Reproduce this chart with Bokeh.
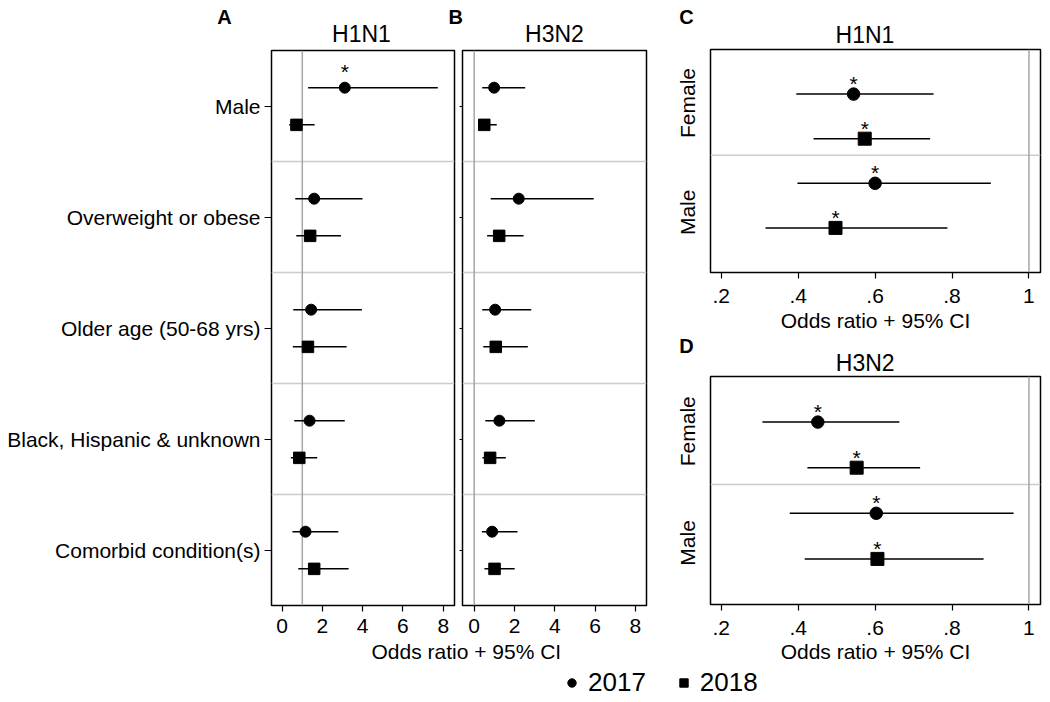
from bokeh.plotting import figure
from bokeh.models import (ColumnDataSource, Span, Label, FixedTicker, Legend,
                          LegendItem, Range1d)
from bokeh.layouts import row, column
from bokeh.embed import file_html
from bokeh.resources import INLINE
from bokeh.core.properties import value

FONT = "Liberation Sans"

# ---------------- data ----------------
years = ["2017", "2018"]
risk_factors = ["Male", "Overweight or obese", "Older age (50-68 yrs)",
                "Black, Hispanic & unknown", "Comorbid condition(s)"]

h1n1_2017_or = [3.11, 1.59, 1.44, 1.36, 1.16]
h1n1_2017_lo = [1.29, 0.65, 0.55, 0.60, 0.51]
h1n1_2017_hi = [7.73, 3.99, 3.96, 3.11, 2.79]
h1n1_2017_sig = [True, False, False, False, False]
h1n1_2018_or = [0.71, 1.39, 1.28, 0.85, 1.59]
h1n1_2018_lo = [0.35, 0.70, 0.53, 0.43, 0.80]
h1n1_2018_hi = [1.61, 2.92, 3.20, 1.74, 3.30]
h1n1_2018_sig = [False, False, False, False, False]

h3n2_2017_or = [0.99, 2.21, 1.04, 1.25, 0.89]
h3n2_2017_lo = [0.40, 0.82, 0.40, 0.55, 0.38]
h3n2_2017_hi = [2.53, 5.93, 2.83, 3.01, 2.15]
h3n2_2017_sig = [False, False, False, False, False]
h3n2_2018_or = [0.50, 1.24, 1.07, 0.79, 1.01]
h3n2_2018_lo = [0.25, 0.64, 0.45, 0.41, 0.51]
h3n2_2018_hi = [1.12, 2.45, 2.66, 1.57, 2.01]
h3n2_2018_sig = [False, False, False, False, False]

sexes = ["Female", "Male"]
sex_h1n1_2017_or = [0.544, 0.600]
sex_h1n1_2017_lo = [0.395, 0.398]
sex_h1n1_2017_hi = [0.752, 0.901]
sex_h1n1_2018_or = [0.573, 0.497]
sex_h1n1_2018_lo = [0.440, 0.315]
sex_h1n1_2018_hi = [0.743, 0.788]
sex_h3n2_2017_or = [0.451, 0.603]
sex_h3n2_2017_lo = [0.307, 0.378]
sex_h3n2_2017_hi = [0.663, 0.960]
sex_h3n2_2018_or = [0.552, 0.606]
sex_h3n2_2018_lo = [0.424, 0.417]
sex_h3n2_2018_hi = [0.717, 0.882]
sex_sig = [True, True]

ab_ticks = [0, 2, 4, 6, 8]
cd_ticks = [0.2, 0.4, 0.6, 0.8, 1.0]
cd_tick_labels = [".2", ".4", ".6", ".8", "1"]
x_title = "Odds ratio + 95% CI"


# ---------------- helpers ----------------
def base_fig(width, height, xr, yr, bl, br, bt, bb, outline=True):
    p = figure(width=width, height=height, x_range=Range1d(*xr), y_range=Range1d(*yr),
               output_backend="svg", toolbar_location=None, title=None,
               min_border_left=bl, min_border_right=br,
               min_border_top=bt, min_border_bottom=bb)
    p.grid.visible = False
    p.outline_line_color = "black" if outline else None
    p.outline_line_width = 1.5
    p.background_fill_color = "white"
    p.border_fill_color = "white"
    return p


def strip(width, height):
    p = base_fig(width, height, (0, width), (0, height), 0, 0, 0, 0, outline=False)
    p.axis.visible = False
    return p


def style_axis(ax, tick_out, standoff, size="21px"):
    ax.axis_line_color = None
    ax.major_tick_out = tick_out
    ax.major_tick_in = 0
    ax.minor_tick_out = 0
    ax.minor_tick_in = 0
    ax.major_tick_line_color = "black"
    ax.major_tick_line_width = 1.2
    ax.major_label_text_font = FONT
    ax.major_label_text_font_size = size
    ax.major_label_text_color = "black"
    ax.major_label_standoff = standoff
    ax.axis_label_text_font = FONT
    ax.axis_label_text_font_size = "21px"
    ax.axis_label_text_font_style = "normal"
    ax.axis_label_text_color = "black"
    ax.axis_label_standoff = 3


def add_label(p, x, y, text, size, bold=False):
    p.add_layout(Label(x=x, y=y, text=text,
                       text_font=FONT, text_font_size=size,
                       text_font_style="bold" if bold else "normal",
                       text_align="center", text_baseline="middle",
                       text_color="black"))


def draw_series(p, ys, ors, los, his, sig, marker, size, star_off):
    src = ColumnDataSource(dict(y=ys, o=ors, lo=los, hi=his))
    p.segment(x0="lo", y0="y", x1="hi", y1="y", source=src,
              line_color="black", line_width=1.5)
    p.scatter(x="o", y="y", source=src, marker=marker, size=size,
              fill_color="black", line_color="black")
    sx = [o for o, s in zip(ors, sig) if s]
    sy = [y for y, s in zip(ys, sig) if s]
    if sx:
        p.text(x=sx, y=sy, text=["*"] * len(sx), text_font=value(FONT),
               text_font_size="21px", text_align="center", text_baseline="middle",
               y_offset=star_off, text_color="black")


def risk_panel(width, xr, bl, br, ref_x, show_labels, data):
    p = base_fig(width, 592, xr, (0.5, 5.5), bl, br, 2, 35)
    n = len(risk_factors)
    centers = [n - i for i in range(n)]
    for loc in [c + 0.5 for c in centers[1:]]:
        p.add_layout(Span(location=loc, dimension="width", line_color="#cccccc",
                          line_width=1.5, level="underlay"))
    p.add_layout(Span(location=ref_x, dimension="height", line_color="#a6a6a6",
                      line_width=1.5, level="underlay"))
    (o17, l17, h17, s17), (o18, l18, h18, s18) = data
    draw_series(p, [c + 0.165 for c in centers], o17, l17, h17, s17, "circle", 11, -16.5)
    draw_series(p, [c - 0.17 for c in centers], o18, l18, h18, s18, "square", 11.5, -16.5)
    p.xaxis.ticker = FixedTicker(ticks=ab_ticks)
    style_axis(p.xaxis[0], 6, 7)
    p.yaxis.ticker = FixedTicker(ticks=centers)
    if show_labels:
        p.yaxis.major_label_overrides = {c: lab for c, lab in zip(centers, risk_factors)}
        style_axis(p.yaxis[0], 7, 4)
    else:
        p.yaxis.major_label_overrides = {c: "" for c in centers}
        style_axis(p.yaxis[0], 3, 0)
    return p


def sex_panel(height, bt, bb, data, xlabel):
    p = base_fig(390, height, (0.172, 1.030), (0, 5), 50, 10, bt, bb)
    p.add_layout(Span(location=2.63, dimension="width", line_color="#cccccc",
                      line_width=1.5, level="underlay"))
    p.add_layout(Span(location=1.0, dimension="height", line_color="#a6a6a6",
                      line_width=1.5, level="underlay"))
    (o17, l17, h17), (o18, l18, h18) = data
    y17 = [4 - 2 * i for i in range(len(sexes))]
    y18 = [3 - 2 * i for i in range(len(sexes))]
    draw_series(p, y17, o17, l17, h17, sex_sig, "circle", 12.5, -10.5)
    draw_series(p, y18, o18, l18, h18, sex_sig, "square", 13, -10.5)
    p.xaxis.ticker = FixedTicker(ticks=cd_ticks)
    p.xaxis.major_label_overrides = {t: l for t, l in zip(cd_ticks, cd_tick_labels)}
    style_axis(p.xaxis[0], 6, 10)
    if xlabel:
        p.xaxis.axis_label = xlabel
    lab_pos = [3.8, 1.35]
    p.yaxis.ticker = FixedTicker(ticks=lab_pos)
    p.yaxis.major_label_overrides = {t: s for t, s in zip(lab_pos, sexes)}
    style_axis(p.yaxis[0], 0, 11)
    p.yaxis.major_label_orientation = "vertical"
    return p


# ---------------- headers ----------------
hdrAB = strip(660, 48)
add_label(hdrAB, 224, 31.3, "A", "20px", bold=True)
add_label(hdrAB, 361, 15, "H1N1", "23px")
add_label(hdrAB, 455.3, 31.3, "B", "20px", bold=True)
add_label(hdrAB, 554, 15, "H3N2", "23px")

hdrC = strip(390, 48)
add_label(hdrC, 26, 31.3, "C", "20px", bold=True)
add_label(hdrC, 204.5, 13.2, "H1N1", "23px")

hdrD = strip(390, 41)
add_label(hdrD, 26, 29.5, "D", "20px", bold=True)
add_label(hdrD, 204.7, 12.7, "H3N2", "23px")

# ---------------- panels ----------------
pA = risk_panel(459, (-0.53, 8.56), 271, 5, 1, True,
                [(h1n1_2017_or, h1n1_2017_lo, h1n1_2017_hi, h1n1_2017_sig),
                 (h1n1_2018_or, h1n1_2018_lo, h1n1_2018_hi, h1n1_2018_sig)])
pB = risk_panel(201, (-0.58, 8.55), 3, 14, 0, False,
                [(h3n2_2017_or, h3n2_2017_lo, h3n2_2017_hi, h3n2_2017_sig),
                 (h3n2_2018_or, h3n2_2018_lo, h3n2_2018_hi, h3n2_2018_sig)])

pC = sex_panel(286, 1, 58,
               [(sex_h1n1_2017_or, sex_h1n1_2017_lo, sex_h1n1_2017_hi),
                (sex_h1n1_2018_or, sex_h1n1_2018_lo, sex_h1n1_2018_hi)],
               x_title)
pD = sex_panel(265, 1, 36,
               [(sex_h3n2_2017_or, sex_h3n2_2017_lo, sex_h3n2_2017_hi),
                (sex_h3n2_2018_or, sex_h3n2_2018_lo, sex_h3n2_2018_hi)],
               None)

# ---------------- bottom strip: x titles + legend ----------------
pBot = strip(1050, 62)
add_label(pBot, 465.8, 51, x_title, "21px")
add_label(pBot, 875, 51, x_title, "21px")
r17 = pBot.scatter(x=h1n1_2017_or, y=h1n1_2017_or, marker="circle", size=9,
                   fill_color="black", line_color="black", visible=False)
r18 = pBot.scatter(x=h1n1_2018_or, y=h1n1_2018_or, marker="square", size=9,
                   fill_color="black", line_color="black", visible=False)
leg = Legend(items=[LegendItem(label=years[0], renderers=[r17]),
                    LegendItem(label=years[1], renderers=[r18])],
             orientation="horizontal", location=(561, 4),
             glyph_width=21, glyph_height=21, label_standoff=6, spacing=27,
             padding=0, margin=0, border_line_color=None, background_fill_alpha=0,
             label_text_font=FONT, label_text_font_size="26px", label_text_color="black")
pBot.add_layout(leg)

left = column(hdrAB, row(pA, pB))
right = column(row(hdrC), pC, row(hdrD), pD)
layout = column(row(left, right), pBot)

html = file_html(layout, INLINE)
open("out.html", "w").write(html)
